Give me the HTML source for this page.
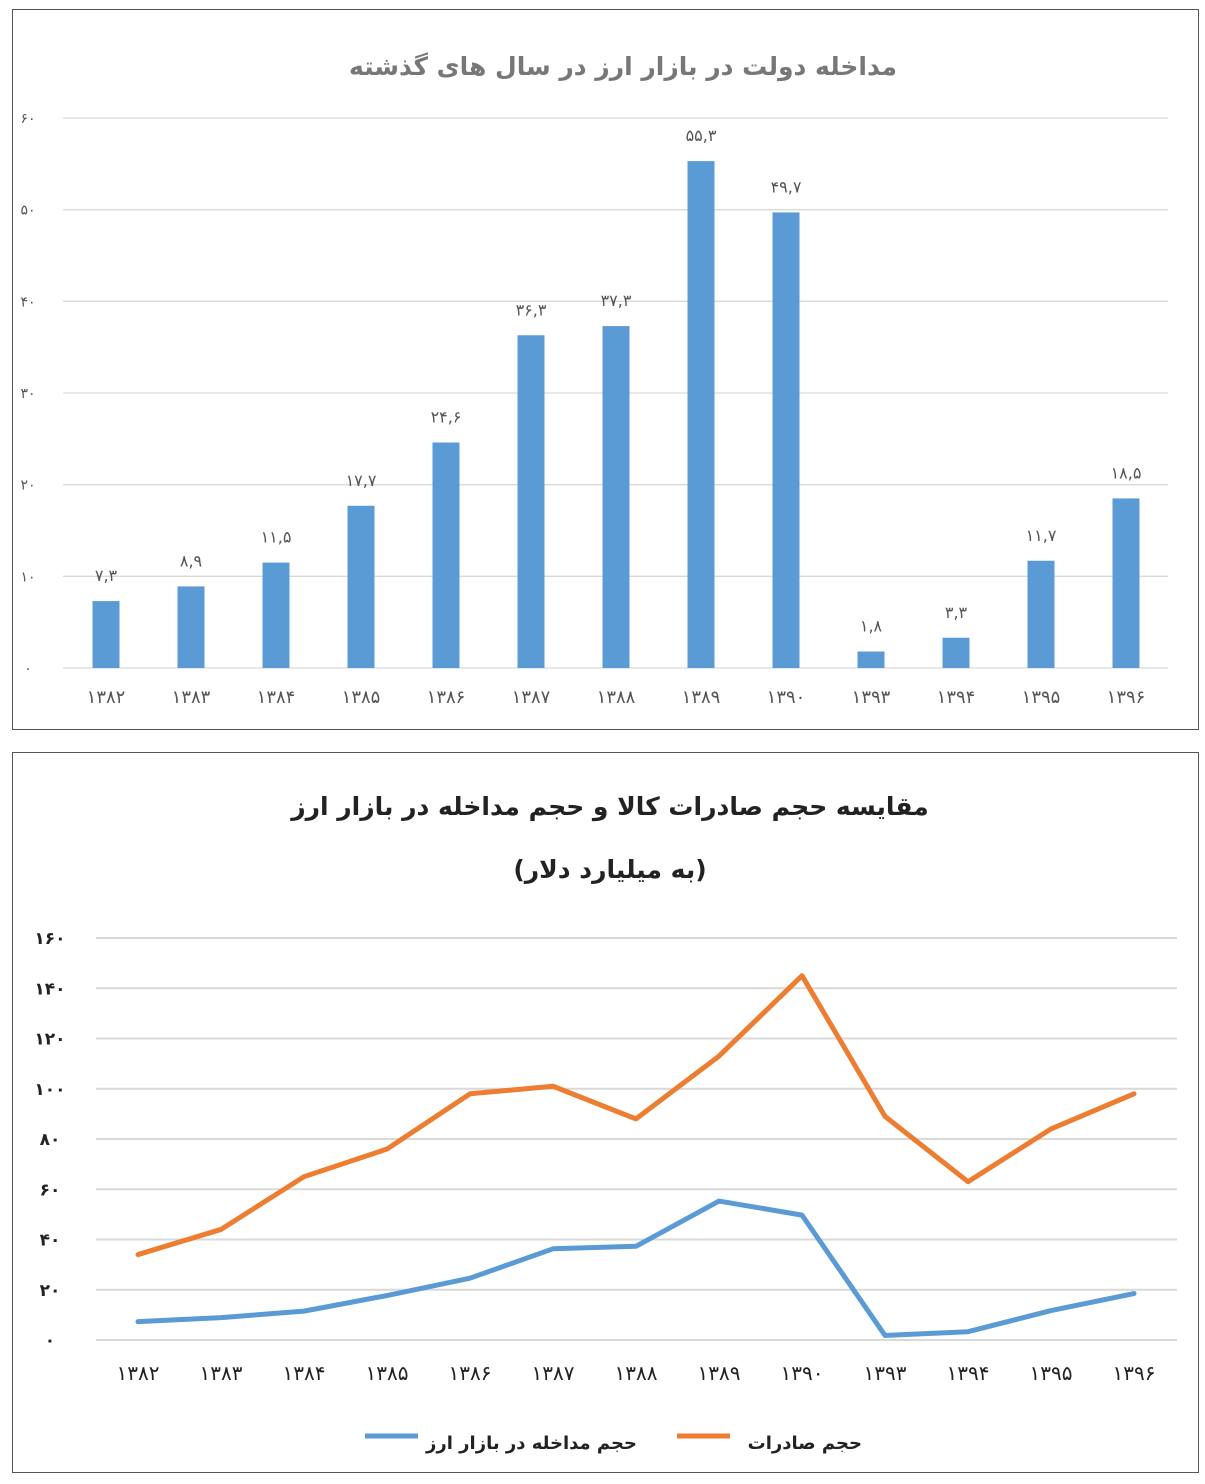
<!DOCTYPE html>
<html><head><meta charset="utf-8">
<style>
body{margin:0;background:#fff;width:1205px;height:1484px;position:relative;font-family:"DejaVu Sans","Liberation Sans",sans-serif;}
.frame{position:absolute;border:1px solid #555;background:#fff;}
svg text{font-family:"DejaVu Sans","Liberation Sans",sans-serif;}
</style></head><body>
<div class="frame" style="left:12px;top:9px;width:1185px;height:719px"></div>
<div class="frame" style="left:12px;top:752px;width:1185px;height:719px"></div>
<svg id="svg" width="1205" height="1484" style="position:absolute;left:0;top:0">
<text x="623" y="75" text-anchor="middle" font-size="25" font-weight="bold" fill="#777" direction="rtl">مداخله دولت در بازار ارز در سال های گذشته</text>
<text x="610" y="815" text-anchor="middle" font-size="25" font-weight="bold" fill="#222" direction="rtl">مقایسه حجم صادرات کالا و حجم مداخله در بازار ارز</text>
<text x="610" y="878" text-anchor="middle" font-size="25" font-weight="bold" fill="#222" direction="rtl">(به میلیارد دلار)</text>
<g id="bars"></g><g id="lines"></g>
<line x1="365" y1="1436" x2="418" y2="1436" stroke="#5b9bd5" stroke-width="5"/>
<text x="637" y="1449" text-anchor="start" font-size="18" font-weight="bold" fill="#222" direction="rtl">حجم مداخله در بازار ارز</text>
<line x1="677" y1="1436" x2="730" y2="1436" stroke="#ed7d31" stroke-width="5"/>
<text x="862" y="1449" text-anchor="start" font-size="18" font-weight="bold" fill="#222" direction="rtl">حجم صادرات</text>
</svg>
<script>
const years=["۱۳۸۲","۱۳۸۳","۱۳۸۴","۱۳۸۵","۱۳۸۶","۱۳۸۷","۱۳۸۸","۱۳۸۹","۱۳۹۰","۱۳۹۳","۱۳۹۴","۱۳۹۵","۱۳۹۶"];
const intervention=[7.3,8.9,11.5,17.7,24.6,36.3,37.3,55.3,49.7,1.8,3.3,11.7,18.5];
const exportsVol=[34,44,65,76,98,101,88,113,145,89,63,84,98];
const barTicks=[0,10,20,30,40,50,60];
const lineTicks=[0,20,40,60,80,100,120,140,160];
const NS="http://www.w3.org/2000/svg";
function fa(s){return String(s).replace(/\./g,",").replace(/\d/g,d=>"۰۱۲۳۴۵۶۷۸۹"[d]);}
function mk(tag,attrs,parent,txt){const e=document.createElementNS(NS,tag);for(const k in attrs)e.setAttribute(k,attrs[k]);if(txt!==undefined)e.textContent=txt;parent.appendChild(e);return e;}
const g1=document.getElementById('bars');
const by=v=>668-v*(550/60), bx=i=>106+i*85;
barTicks.forEach(t=>{
 const l=mk('line',{x1:63,x2:1168,y1:by(t),y2:by(t),stroke:'#d9d9d9','stroke-width':1.3},g1);
 
 
 const tx=mk('text',{x:28,y:by(t)+5,'text-anchor':'middle','font-size':14,fill:'#555'},g1,fa(t));
 
 
});
intervention.forEach((v,i)=>{
 const r=mk('rect',{x:bx(i)-13.5,y:by(v),width:27,height:668-by(v),fill:'#5b9bd5'},g1);
 
 
 const t=mk('text',{x:bx(i),y:by(v)-20,'text-anchor':'middle','font-size':16,fill:'#555'},g1,fa(v));
 
 
 const xl=mk('text',{x:bx(i),y:703,'text-anchor':'middle','font-size':18,fill:'#555'},g1,years[i]);
 
 
});
const g2=document.getElementById('lines');
const ly=v=>1340-v*(402/160), lx=i=>138+i*83;
lineTicks.forEach(t=>{
 const l=mk('line',{x1:96,x2:1177,y1:ly(t),y2:ly(t),stroke:'#d9d9d9','stroke-width':2},g2);
 
 
 const tx=mk('text',{x:50,y:ly(t)+6,'text-anchor':'middle','font-size':17,'font-weight':'bold',fill:'#222'},g2,fa(t));
 
 
});
years.forEach((y,i)=>{
 const xl=mk('text',{x:lx(i),y:1380,'text-anchor':'middle','font-size':20,fill:'#222'},g2,y);
 
 
});
const p1=mk('polyline',{points:exportsVol.map((v,i)=>lx(i)+','+ly(v)).join(' '),fill:'none',stroke:'#ed7d31','stroke-width':5,'stroke-linejoin':'round','stroke-linecap':'round'},g2);


const p2=mk('polyline',{points:intervention.map((v,i)=>lx(i)+','+ly(v)).join(' '),fill:'none',stroke:'#5b9bd5','stroke-width':5,'stroke-linejoin':'round','stroke-linecap':'round'},g2);


</script>
</body></html>
